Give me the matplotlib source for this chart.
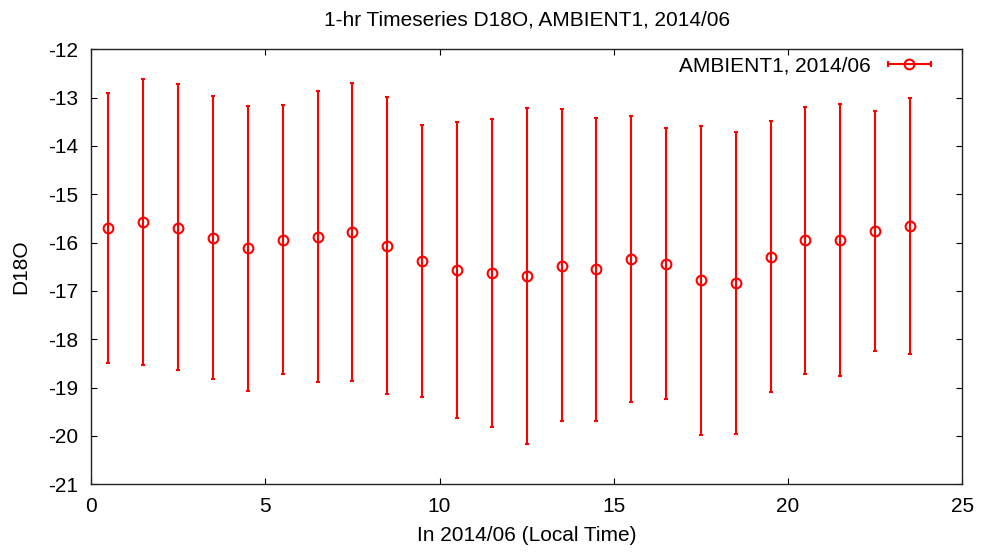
import matplotlib
matplotlib.use("Agg")
import matplotlib.pyplot as plt
from matplotlib.lines import Line2D
from matplotlib.legend_handler import HandlerLine2D, HandlerTuple

# ── data ─────────────────────────────────────────────────
hours = [0.5, 1.5, 2.5, 3.5, 4.5, 5.5, 6.5, 7.5, 8.5, 9.5, 10.5, 11.5,
         12.5, 13.5, 14.5, 15.5, 16.5, 17.5, 18.5, 19.5, 20.5, 21.5, 22.5, 23.5]
d18o_mean = [-15.70, -15.58, -15.69, -15.90, -16.12, -15.94, -15.88, -15.79,
             -16.07, -16.38, -16.57, -16.62, -16.69, -16.48, -16.55, -16.34,
             -16.44, -16.77, -16.84, -16.29, -15.95, -15.95, -15.76, -15.65]
d18o_high = [-12.91, -12.61, -12.72, -12.97, -13.17, -13.15, -12.86, -12.70,
             -12.99, -13.56, -13.50, -13.44, -13.21, -13.24, -13.42, -13.37,
             -13.63, -13.59, -13.72, -13.49, -13.19, -13.13, -13.28, -13.00]
d18o_low = [-18.49, -18.53, -18.64, -18.82, -19.06, -18.71, -18.88, -18.86,
            -19.13, -19.20, -19.62, -19.81, -20.17, -19.69, -19.68, -19.30,
            -19.24, -19.97, -19.96, -19.08, -18.71, -18.75, -18.24, -18.30]
series_label = "AMBIENT1, 2014/06"

plt.rcParams['font.family'] = ['Liberation Sans', 'DejaVu Sans']
plt.rcParams['axes.unicode_minus'] = False
FS = 15

yerr = [[m - lo for m, lo in zip(d18o_mean, d18o_low)],
        [hi - m for m, hi in zip(d18o_mean, d18o_high)]]

W, H = 986, 559
fig = plt.figure(figsize=(W / 100, H / 100), dpi=100)
ax = fig.add_axes([91 / W, 1 - 484.3 / H, (962.3 - 91) / W, (484.3 - 49.3) / H])

ax.errorbar(hours, d18o_mean, yerr=yerr, fmt="o", color="red",
            mfc="none", mec="red", ms=7, mew=1.5, elinewidth=1.5,
            capsize=1.5, capthick=1.5)

ax.set_xlim(0, 25)
ax.set_ylim(-21, -12)
ax.set_xticks(range(0, 26, 5))
ax.set_yticks(range(-21, -11))
ax.tick_params(direction="in", top=True, right=True, labelsize=FS,
               length=4, width=0.8, pad=9)
for s in ax.spines.values():
    s.set_linewidth(1.0)
    s.set_color("#222222")

ax.set_title("1-hr Timeseries D18O, AMBIENT1, 2014/06", fontsize=FS, pad=17)
ax.set_xlabel("In 2014/06 (Local Time)", fontsize=FS, labelpad=7)
ax.set_ylabel("D18O", fontsize=FS, labelpad=13)

# gnuplot-style key sample: horizontal bar with end caps and a circle
bar = Line2D([], [], color="red", lw=1.5, marker="|", ms=4, mew=1.5)
dot = Line2D([], [], ls="none", marker="o", mfc="none", mec="red", ms=7, mew=1.5)
ax.legend([(bar, dot)], [series_label], frameon=False, markerfirst=False,
          fontsize=FS, loc="upper right",
          bbox_to_anchor=(937 / W, 1 - 56 / H), bbox_transform=fig.transFigure,
          borderpad=0, borderaxespad=0, handlelength=2.65, handletextpad=0.55,
          handler_map={bar: HandlerLine2D(numpoints=2),
                       dot: HandlerLine2D(numpoints=1),
                       tuple: HandlerTuple(ndivide=1)})

fig.savefig("out.png", dpi=100)
